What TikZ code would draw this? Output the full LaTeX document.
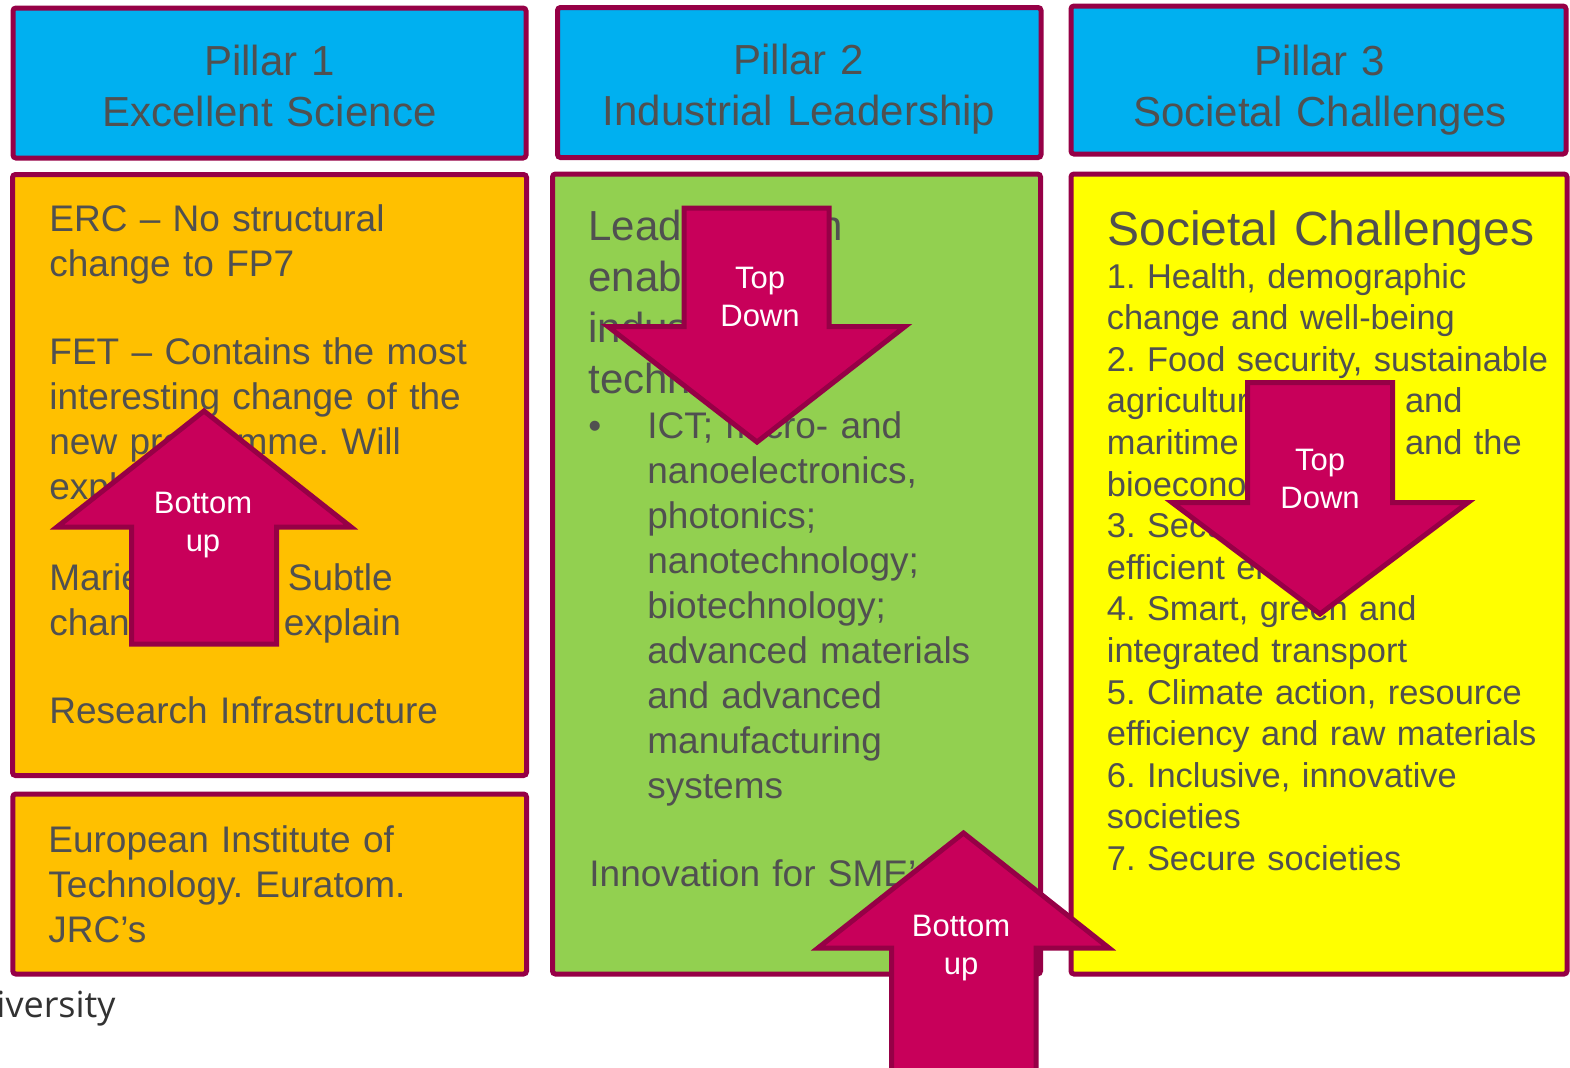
\documentclass[tikz,border=0pt]{standalone}
\usepackage{fontspec}
\setmainfont{Liberation Sans}
\newfontfamily\logofont{Open Sans}
\frenchspacing
\definecolor{txt}{RGB}{80,80,80}
\definecolor{bord}{RGB}{150,0,70}
\definecolor{hdr}{RGB}{0,176,240}
\definecolor{orng}{RGB}{255,192,0}
\definecolor{grn}{RGB}{146,208,80}
\definecolor{ylw}{RGB}{255,255,0}
\definecolor{arr}{RGB}{200,0,90}
\definecolor{logo}{RGB}{50,50,50}
\begin{document}
\begin{tikzpicture}[x=0.5pt,y=-0.5pt,
  box/.style={draw=bord, line width=2.5pt, rounded corners=1.5pt, inner sep=0},
  hdrtext/.style={text=txt, font=\fontsize{21}{25.5}\selectfont, align=center, anchor=base, inner sep=0, text width=240pt},
  body/.style={text=txt, font=\fontsize{18.5}{22.5}\selectfont, align=left, anchor=base west, inner sep=0, text width=240pt},
  bigbody/.style={text=txt, font=\fontsize{21}{25.5}\selectfont, align=left, anchor=base west, inner sep=0, text width=240pt},
  listbody/.style={text=txt, font=\fontsize{17.2}{20.8}\selectfont, align=left, anchor=base west, inner sep=0, text width=240pt},
  titlebody/.style={text=txt, font=\fontsize{24}{28}\selectfont, align=left, anchor=base west, inner sep=0, text width=240pt},
  arrowshape/.style={fill=arr, draw=bord, line width=2.5pt, line join=miter},
  arrowtext/.style={text=white, font=\fontsize{15.5}{19}\selectfont, align=center, anchor=base, inner sep=0, text width=60pt}
]
\useasboundingbox (0,0) rectangle (1570,1067);
\clip (0,0) rectangle (1570,1067);
\fill[white] (0,0) rectangle (1570,1067);

% header boxes
\node[box, fill=hdr, minimum width=256.5pt, minimum height=75pt] (h1) at (269.5,83) {};
\node[box, fill=hdr, minimum width=241.75pt, minimum height=75pt] (h2) at (799.25,82.5) {};
\node[box, fill=hdr, minimum width=247.5pt, minimum height=74pt] (h3) at (1318.5,80) {};
\node[hdrtext] (h1t) at (269.5,75) {Pillar 1\\Excellent Science};
\node[hdrtext] (h2t) at (799,74) {Pillar 2\\Industrial Leadership};
\node[hdrtext] (h3t) at (1320,75) {Pillar 3\\Societal Challenges};

% content boxes
\node[box, fill=orng, minimum width=257pt, minimum height=300.5pt] (o1) at (269.5,475) {};
\node[box, fill=orng, minimum width=256.85pt, minimum height=90pt] (eit) at (269.65,884) {};
\node[box, fill=grn, minimum width=244pt, minimum height=400pt] (g) at (796.5,574) {};
\node[box, fill=ylw, minimum width=248pt, minimum height=400pt] (y) at (1319,574) {};

% pillar 1 texts
\node[body] (erc) at (49,231) {ERC – No structural\\change to FP7};
\node[body] (fet) at (49,364.3) {FET – Contains the most\\interesting change of the\\new programme. Will\\explain};
\node[body] (mc) at (49,590) {Marie Curie – Subtle\\changes. Will explain};
\node[body] (ri) at (49,723.3) {Research Infrastructure};
\node[body] (eitt) at (48,852.7) {European Institute of\\Technology. Euratom.\\JRC’s};

% pillar 2 texts
\node[bigbody] (lead) at (588,240) {Leadership in\\enabling and\\industrial\\technologies};
\node[body, text width=20pt] (bul) at (588,438) {•};
\node[body] (ict) at (647,438) {ICT; micro- and\\nanoelectronics,\\photonics;\\nanotechnology;\\biotechnology;\\advanced materials\\and advanced\\manufacturing\\systems};
\node[body] (sme) at (589,886.7) {Innovation for SME’s};

% pillar 3 texts
\node[titlebody] (sct) at (1107,245) {Societal Challenges};
\node[listbody] (scl) at (1106.5,288) {1. Health, demographic\\change and well-being\\2. Food security, sustainable\\agriculture, marine and\\maritime research, and the\\bioeconomy\\3. Secure, clean and\\efficient energy\\4. Smart, green and\\integrated transport\\5. Climate action, resource\\efficiency and raw materials\\6. Inclusive, innovative\\societies\\7. Secure societies};

% logo fragment
\node[text=logo, font=\logofont\fontsize{18}{21}\selectfont, anchor=base east, inner sep=0] (uni) at (116,1017) {iversity};

% arrows
\draw[arrowshape] (684,208) -- (829,208) -- (829,326.5) -- (905,326.5) -- (757,442) -- (608,326.5) -- (684,326.5) -- cycle;
\node[arrowtext] (td1) at (760,288.3) {Top\\Down};

\draw[arrowshape] (1247.5,382.5) -- (1392.5,382.5) -- (1392.5,502.5) -- (1468,502.5) -- (1320,614) -- (1172,502.5) -- (1247.5,502.5) -- cycle;
\node[arrowtext] (td2) at (1320,470) {Top\\Down};

\draw[arrowshape] (204,411) -- (351,527) -- (276.5,527) -- (276.5,644) -- (131.5,644) -- (131.5,527) -- (57,527) -- cycle;
\node[arrowtext] (bu1) at (203,513) {Bottom\\up};

\draw[arrowshape] (963.5,833) -- (1109,948) -- (1036,948) -- (1036,1085) -- (891.5,1085) -- (891.5,948) -- (818,948) -- cycle;
\node[arrowtext] (bu2) at (961,936.7) {Bottom\\up};
\end{tikzpicture}
\end{document}
